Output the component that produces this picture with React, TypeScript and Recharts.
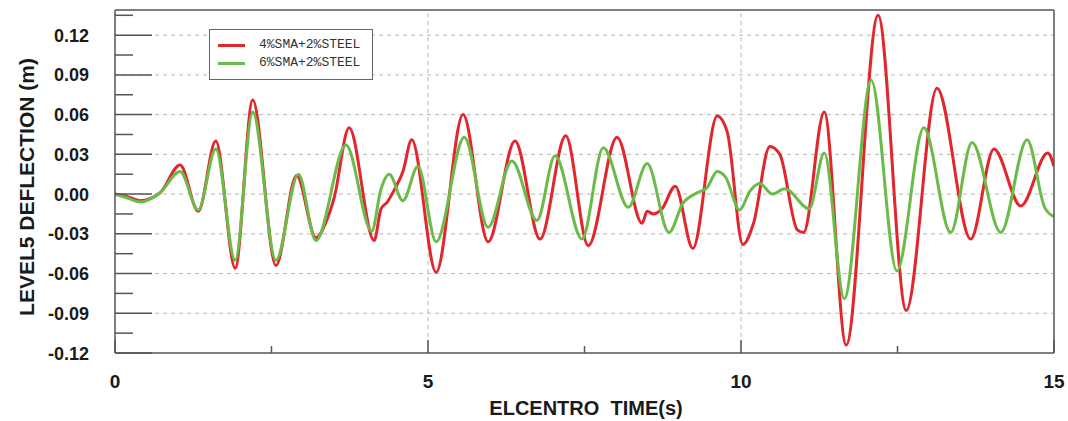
import { LineChart, Line, XAxis, YAxis, ReferenceLine, Legend } from "recharts";

// time (s) / deflection (m), one pair per extremum or kink
const RED_T = [0, 0.2, 0.4, 0.72, 1.04, 1.33, 1.61, 1.92, 2.2, 2.57, 2.9, 3.21, 3.38, 3.5, 3.74, 4.14, 4.25, 4.35, 4.46, 4.6, 4.74, 5.13, 5.56, 5.96, 6.39, 6.79, 7.2, 7.56, 8.02, 8.42, 8.5, 8.6, 8.74, 8.95, 9.23, 9.62, 9.78, 10.03, 10.2, 10.46, 10.62, 10.9, 11.0, 11.33, 11.68, 12.19, 12.64, 13.13, 13.67, 14.04, 14.47, 14.9, 15];
const RED_V = [0, -0.002, -0.005, 0.001, 0.022, -0.013, 0.04, -0.056, 0.071, -0.054, 0.014, -0.033, -0.02, -0.003, 0.05, -0.035, -0.011, -0.006, 0.003, 0.017, 0.041, -0.059, 0.06, -0.036, 0.04, -0.034, 0.044, -0.039, 0.043, -0.022, -0.013, -0.015, -0.011, 0.006, -0.041, 0.059, 0.047, -0.038, -0.022, 0.036, 0.03, -0.027, -0.029, 0.062, -0.114, 0.135, -0.088, 0.08, -0.034, 0.034, -0.009, 0.031, 0.021];

const GREEN_T = [0, 0.2, 0.4, 0.72, 1.04, 1.33, 1.61, 1.92, 2.2, 2.57, 2.93, 3.21, 3.69, 4.1, 4.25, 4.38, 4.6, 4.84, 5.13, 5.58, 5.96, 6.34, 6.74, 7.03, 7.46, 7.8, 8.2, 8.5, 8.85, 9.07, 9.3, 9.46, 9.62, 9.75, 9.98, 10.14, 10.3, 10.5, 10.7, 11.09, 11.33, 11.65, 12.08, 12.49, 12.92, 13.35, 13.69, 14.15, 14.57, 14.85, 15];
const GREEN_V = [0, -0.003, -0.006, 0.001, 0.017, -0.012, 0.034, -0.05, 0.062, -0.05, 0.015, -0.035, 0.037, -0.028, 0.004, 0.015, -0.005, 0.021, -0.036, 0.043, -0.025, 0.025, -0.02, 0.029, -0.034, 0.035, -0.01, 0.023, -0.029, -0.007, 0.001, 0.005, 0.017, 0.013, -0.012, 0.002, 0.008, 0, 0.004, -0.011, 0.031, -0.079, 0.086, -0.058, 0.05, -0.029, 0.039, -0.029, 0.041, -0.01, -0.017];

const SERIES_NAMES = ["4%SMA+2%STEEL", "6%SMA+2%STEEL"];
const COLORS = ["#e2262d", "#6cbb4a"];

const X_MAJOR = [0, 5, 10, 15];
const X_MINOR = [2.5, 7.5, 12.5];
const Y_MAJOR = [-0.12, -0.09, -0.06, -0.03, 0, 0.03, 0.06, 0.09, 0.12];
const Y_MINOR = [-0.105, -0.075, -0.045, -0.015, 0.015, 0.045, 0.075, 0.105, 0.135];

const X_TICKS = [...X_MAJOR, ...X_MINOR].sort((a, b) => a - b);
const Y_TICKS = [...Y_MAJOR, ...Y_MINOR].sort((a, b) => a - b);

const red = RED_T.map((t, i) => ({ t, v: RED_V[i] }));
const green = GREEN_T.map((t, i) => ({ t, v: GREEN_V[i] }));

const isMajor = (list: number[], v: number) => list.some((m) => Math.abs(m - v) < 1e-9);

const AXIS = "#555";
const labelFont = { fontFamily: "'Liberation Sans', Arial, sans-serif", fontWeight: 700 };

function LeftTick(props: any) {
  const { x, y, payload } = props;
  const major = isMajor(Y_MAJOR, payload.value);
  return (
    <g>
      <line x1={x} y1={y} x2={x + (major ? 37 : 18)} y2={y} stroke={AXIS} strokeWidth={1.5} />
      {major && (
        <text x={x - 26} y={y} dy={6.5} textAnchor="end" fontSize={18} fill="#1a1a1a" style={labelFont}>
          {payload.value.toFixed(2)}
        </text>
      )}
    </g>
  );
}

function RightTick(props: any) {
  const { x, y, payload } = props;
  const major = isMajor(Y_MAJOR, payload.value);
  return <line x1={x} y1={y} x2={x - (major ? 36 : 18)} y2={y} stroke={AXIS} strokeWidth={1.5} />;
}

function BottomTick(props: any) {
  const { x, y, payload } = props;
  const major = isMajor(X_MAJOR, payload.value);
  return (
    <g>
      <line x1={x} y1={y} x2={x} y2={y - (major ? 13 : 7)} stroke={AXIS} strokeWidth={1.5} />
      {major && (
        <text x={x} y={y} dy={35} textAnchor="middle" fontSize={19} fill="#1a1a1a" style={labelFont}>
          {payload.value}
        </text>
      )}
    </g>
  );
}

function TopTick(props: any) {
  const { x, y, payload } = props;
  const major = isMajor(X_MAJOR, payload.value);
  return <line x1={x} y1={y} x2={x} y2={y + (major ? 12 : 6)} stroke={AXIS} strokeWidth={1.5} />;
}

function YTitle() {
  return (
    <text x={27} y={187} transform="rotate(-90 27 187)" dy={7} textAnchor="middle" fontSize={21} fill="#1a1a1a" style={labelFont}>
      LEVEL5 DEFLECTION (m)
    </text>
  );
}

function XTitle() {
  return (
    <text x={586} y={415} textAnchor="middle" fontSize={20} fill="#1a1a1a" style={labelFont} xmlSpace="preserve">
      ELCENTRO  TIME(s)
    </text>
  );
}

function LegendBox() {
  return (
    <div style={{ width: 162, height: 49, border: "1px solid #666", background: "#fff", position: "relative" }}>
      {SERIES_NAMES.map((name, i) => (
        <div key={name} style={{ position: "absolute", left: 8, top: 9 + i * 18, height: 12, display: "flex", alignItems: "center" }}>
          <span style={{ display: "inline-block", width: 27, height: 3, background: COLORS[i] }} />
          <span style={{ marginLeft: 14, fontFamily: "'Liberation Mono', monospace", fontSize: 13, color: "#333", lineHeight: "12px" }}>
            {name}
          </span>
        </div>
      ))}
    </div>
  );
}

export default function App() {
  return (
    <div style={{ position: "absolute", left: 0, top: 0, background: "#fff" }}>
      <LineChart width={1068} height={421} margin={{ top: 0, right: 0, bottom: 0, left: 0 }}>
        <XAxis
          xAxisId="b"
          type="number"
          dataKey="t"
          domain={[0, 15]}
          ticks={X_TICKS}
          interval={0}
          height={68}
          tickSize={0}
          tickMargin={0}
          tick={<BottomTick />}
          axisLine={{ stroke: AXIS, strokeWidth: 1.5 }}
          allowDataOverflow
          label={<XTitle />}
        />
        <XAxis
          xAxisId="t"
          orientation="top"
          type="number"
          domain={[0, 15]}
          ticks={X_TICKS}
          interval={0}
          height={10}
          tickSize={0}
          tickMargin={0}
          tick={<TopTick />}
          axisLine={{ stroke: AXIS, strokeWidth: 1.5 }}
        />
        <YAxis
          yAxisId="l"
          type="number"
          domain={[-0.12, 0.139]}
          ticks={Y_TICKS}
          interval={0}
          width={115}
          tickSize={0}
          tickMargin={0}
          tick={<LeftTick />}
          axisLine={{ stroke: AXIS, strokeWidth: 1.5 }}
          allowDataOverflow
          label={<YTitle />}
        />
        <YAxis
          yAxisId="r"
          orientation="right"
          type="number"
          domain={[-0.12, 0.139]}
          ticks={Y_TICKS}
          interval={0}
          width={14}
          tickSize={0}
          tickMargin={0}
          tick={<RightTick />}
          axisLine={{ stroke: AXIS, strokeWidth: 1.5 }}
        />
        {Y_MAJOR.slice(1).map((v) => (
          <ReferenceLine key={"h" + v} xAxisId="b" yAxisId="l" y={v} stroke="#b8b8b8" strokeDasharray="4 4" />
        ))}
        {X_MAJOR.slice(1, 3).map((v) => (
          <ReferenceLine key={"v" + v} xAxisId="b" yAxisId="l" x={v} stroke="#b8b8b8" strokeDasharray="4 4" />
        ))}
        <Legend
          layout="vertical"
          align="center"
          verticalAlign="middle"
          wrapperStyle={{ left: 209, top: 29, width: 164 }}
          content={<LegendBox />}
        />
        <Line
          xAxisId="b"
          yAxisId="l"
          data={red}
          dataKey="v"
          name={SERIES_NAMES[0]}
          type="monotone"
          stroke={COLORS[0]}
          strokeWidth={3}
          dot={false}
          isAnimationActive={false}
        />
        <Line
          xAxisId="b"
          yAxisId="l"
          data={green}
          dataKey="v"
          name={SERIES_NAMES[1]}
          type="monotone"
          stroke={COLORS[1]}
          strokeWidth={3}
          dot={false}
          isAnimationActive={false}
        />
      </LineChart>
    </div>
  );
}
